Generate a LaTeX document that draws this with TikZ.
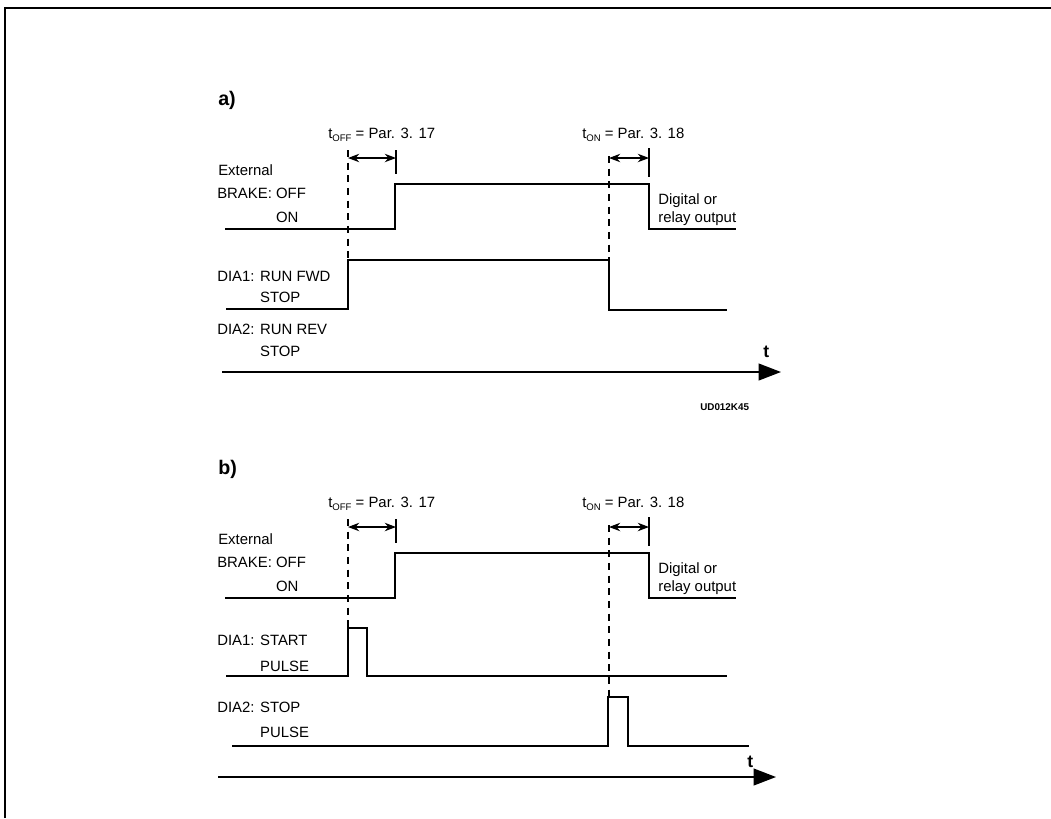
\documentclass[tikz,border=0pt]{standalone}
\usepackage{fontspec}
\setmainfont{Liberation Sans}
\usetikzlibrary{arrows.meta}

\newcommand{\tsub}[2]{#1\raisebox{-0.5ex}{\fontsize{6.8}{7}\selectfont #2}}

\begin{document}
\begin{tikzpicture}[x=0.025cm, y=-0.025cm, font=\fontsize{10.6}{12}\selectfont,
    lbl/.style={anchor=base west, inner sep=0pt},
    sig/.style={line width=1.1pt},
    brakeline/.style={line width=2.1pt},
    cutline/.style={line width=0.8pt, dash pattern=on 5pt off 4pt},
    tickline/.style={line width=0.8pt},
    dim/.style={line width=0.8pt, {Stealth[length=8pt,width=6pt]}-{Stealth[length=8pt,width=6pt]}},
    taxis/.style={line width=1.2pt, -{Triangle[length=16pt,width=12pt]}}]
  \useasboundingbox (0,0) rectangle (1051,818);
  \draw[line width=1.4pt] (5,818) -- (5,8) -- (1051,8);

  % common part of a) and b)
  \foreach \part/\dy in {a/0, b/369} {
    \begin{scope}[shift={(0,\dy)}]
      \node[lbl, font=\fontsize{14}{16}\selectfont\bfseries] (head\part) at (218,105) {\part)};
      \node[lbl] (toff\part) at (328,138) {\tsub{t}{OFF} = Par. 3. 17};
      \node[lbl] (ton\part) at (582,138) {\tsub{t}{ON} = Par. 3. 18};
      \node[lbl] (ext\part) at (218,175) {External};
      \node[lbl] (off\part) at (217,198) {BRAKE: OFF};
      \node[lbl] (on\part) at (217,222) {\phantom{BRAKE: }ON};
      \node[lbl] (dig\part) at (658,204) {Digital or};
      \node[lbl] (rel\part) at (658,222) {relay output};
      \draw[brakeline] (225,229) -- (395,229) -- (395,184) -- (649,184) -- (649,229) -- (736,229);
      \coordinate (d1\part) at (348,158);
      \coordinate (d2\part) at (396,158);
      \coordinate (d3\part) at (609,158);
      \coordinate (d4\part) at (649,158);
      \draw[tickline] (396,150) -- (396,174);
      \draw[tickline] (649,148) -- (649,177);
      \draw[dim] (d1\part) -- (d2\part);
      \draw[dim] (d3\part) -- (d4\part);
    \end{scope}
  }

  % a) run / stop
  \node[lbl] (fwd) at (217,281) {DIA1: RUN FWD};
  \node[lbl] (stop1) at (217,302) {\phantom{DIA1: }STOP};
  \node[lbl] (rev) at (217,334) {DIA2: RUN REV};
  \node[lbl] (stop2) at (217,356) {\phantom{DIA2: }STOP};
  \draw[cutline] (348,150) -- (348,260);
  \draw[cutline] (609,156) -- (609,260);
  \draw[sig] (226,309) -- (348,309) -- (348,260) -- (609,260) -- (609,310) -- (727,310);
  \draw[taxis] (222,372) -- (781,372);
  \node[lbl, font=\fontsize{12.5}{14}\selectfont\bfseries] (ta) at (763,357) {t};
  \node[lbl, font=\fontsize{7}{8}\selectfont\bfseries] (code) at (700,410) {UD012K45};

  % b) pulses
  \node[lbl] (start) at (217,645) {DIA1: START};
  \node[lbl] (pulse1) at (217,671) {\phantom{DIA1: }PULSE};
  \node[lbl] (stop) at (217,712) {DIA2: STOP};
  \node[lbl] (pulse2) at (217,737) {\phantom{DIA2: }PULSE};
  \draw[cutline] (348,519) -- (348,628);
  \draw[cutline] (609,525) -- (609,697);
  \draw[sig] (226,676) -- (348,676) -- (348,628) -- (367,628) -- (367,676) -- (727,676);
  \draw[sig] (232,746) -- (608,746) -- (608,697) -- (628,697) -- (628,746) -- (749,746);
  \draw[taxis] (218,777) -- (776,777);
  \node[lbl, font=\fontsize{12.5}{14}\selectfont\bfseries] (tb) at (747,767) {t};
\end{tikzpicture}
\end{document}
